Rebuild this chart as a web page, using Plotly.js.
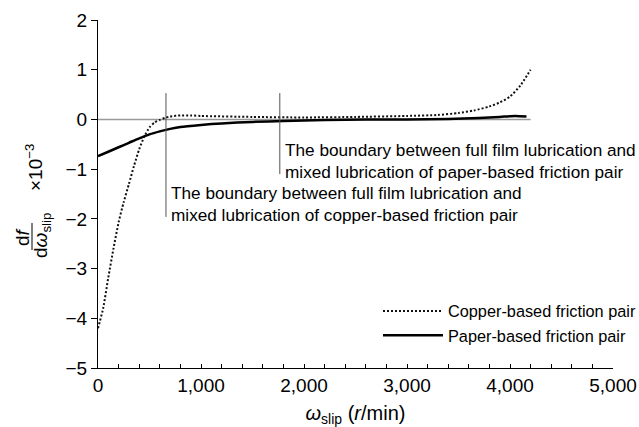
<!DOCTYPE html>
<html>
<head>
<meta charset="utf-8">
<script src="https://cdn.plot.ly/plotly-3.0.1.min.js"></script>
<style>html,body{margin:0;padding:0;background:#fff;}#chart{width:639px;height:427px;}</style>
</head>
<body>
<div id="chart"></div>
<script>
// Copper-based friction pair
const copperX = [0, 50, 100, 150, 200, 250, 300, 350, 400, 450, 500, 550, 600, 650, 700, 800, 900, 1000, 1500, 2000, 2500, 3000, 3300, 3500, 3650, 3800, 3900, 4000, 4100, 4200];
const copperY = [-4.2, -3.8, -3.18, -2.6, -2.07, -1.66, -1.3, -0.93, -0.6, -0.34, -0.16, -0.06, -0.01, 0.03, 0.06, 0.08, 0.08, 0.07, 0.05, 0.04, 0.05, 0.07, 0.09, 0.13, 0.18, 0.26, 0.34, 0.46, 0.68, 1.0];
// Paper-based friction pair
const paperX = [0, 100, 200, 300, 400, 500, 600, 700, 800, 1000, 1200, 1500, 1800, 2200, 2600, 3000, 3400, 3700, 3900, 4050, 4160];
const paperY = [-0.74, -0.65, -0.56, -0.47, -0.38, -0.3, -0.24, -0.19, -0.15, -0.11, -0.08, -0.05, -0.03, -0.01, 0.0, 0.0, 0.01, 0.03, 0.05, 0.07, 0.06];
// Reference zero line
const zeroX = [0, 4200];
const zeroY = [0, 0];
// Boundary markers
const boundaryX = [660, 1765];
const boundaryTop = [0.53, 0.53];
const boundaryBottom = [-1.96, -1.1];
const boundaryTextY = [-1.71, -0.84];
const boundaryText = [
  'The boundary between full film lubrication and<br>mixed lubrication of copper-based friction pair',
  'The boundary between full film lubrication and<br>mixed lubrication of paper-based friction pair'
];
const seriesNames = ['Copper-based friction pair', 'Paper-based friction pair'];

const FONT = 'Liberation Sans, Arial, sans-serif';
const L = 98, R = 26, T = 20, B = 59, W = 639, H = 427;
const PW = W - L - R, PH = H - T - B;
const px = v => (v - L) / PW;
const py = v => (H - B - v) / PH;

const traces = [
  {x: zeroX, y: zeroY, mode: 'lines', line: {color: '#999999', width: 1.5}, showlegend: false, hoverinfo: 'skip'},
  {x: copperX, y: copperY, mode: 'lines', name: seriesNames[0], line: {color: '#111', width: 2, dash: '2px,2px', shape: 'spline', smoothing: 0.6}},
  {x: paperX, y: paperY, mode: 'lines', name: seriesNames[1], line: {color: '#000', width: 2.5, shape: 'spline', smoothing: 0.6}}
];

const shapes = boundaryX.map((bx, i) => ({
  type: 'line', xref: 'x', yref: 'y', x0: bx, x1: bx, y0: boundaryBottom[i], y1: boundaryTop[i],
  line: {color: '#555', width: 1}
}));
// fraction bar of y-axis title
shapes.push({type: 'line', xref: 'paper', yref: 'paper', x0: px(32), x1: px(32), y0: py(223), y1: py(250), line: {color: '#000', width: 1}});

const annotations = boundaryX.map((bx, i) => ({
  xref: 'x', yref: 'y', x: bx, y: boundaryTextY[i], xanchor: 'left', yanchor: 'middle', align: 'left',
  xshift: 3, showarrow: false, text: boundaryText[i], font: {family: FONT, size: 17.2, color: '#000'}
}));
annotations.push(
  {xref: 'paper', yref: 'paper', x: px(22), y: py(237), xanchor: 'center', yanchor: 'middle', textangle: -90, showarrow: false,
   text: 'd<i>f</i>', font: {family: FONT, size: 19, color: '#000'}},
  {xref: 'paper', yref: 'paper', x: px(42), y: py(236), xanchor: 'center', yanchor: 'middle', textangle: -90, showarrow: false,
   text: 'd<i>ω</i><sub>slip</sub>', font: {family: FONT, size: 19, color: '#000'}},
  {xref: 'paper', yref: 'paper', x: px(34), y: py(168), xanchor: 'center', yanchor: 'middle', textangle: -90, showarrow: false,
   text: '×10<sup>−3</sup>', font: {family: FONT, size: 19, color: '#000'}}
);

const layout = {
  width: W, height: H,
  margin: {l: L, r: R, t: T, b: B, pad: 0, autoexpand: false},
  paper_bgcolor: '#fff', plot_bgcolor: '#fff',
  font: {family: FONT, size: 19, color: '#000'},
  showlegend: true,
  legend: {x: px(378), y: py(294), xanchor: 'left', yanchor: 'top', bgcolor: 'rgba(0,0,0,0)',
           font: {family: FONT, size: 16.3, color: '#000'}, itemwidth: 60, tracegroupgap: 0},
  xaxis: {range: [0, 5000], dtick: 1000, tickformat: ',d', showgrid: false, zeroline: false,
          showline: true, linecolor: '#000', linewidth: 1, ticks: 'inside', ticklen: 4, tickcolor: '#000',
          minor: {dtick: 200, ticks: 'inside', ticklen: 4, tickcolor: '#000'},
          tickfont: {family: FONT, size: 19, color: '#000'},
          title: {text: '<i>ω</i><sub>slip</sub> (<i>r</i>/min)', font: {family: FONT, size: 20, color: '#000'}, standoff: 12},
          fixedrange: true},
  yaxis: {range: [-5, 2], dtick: 1, showgrid: false, zeroline: false,
          showline: true, linecolor: '#000', linewidth: 1, ticks: 'outside', ticklen: 6, tickcolor: '#000',
          tickfont: {family: FONT, size: 19, color: '#000'}, fixedrange: true},
  shapes: shapes,
  annotations: annotations
};

Plotly.newPlot('chart', traces, layout, {displayModeBar: false, staticPlot: true});
</script>
</body>
</html>
